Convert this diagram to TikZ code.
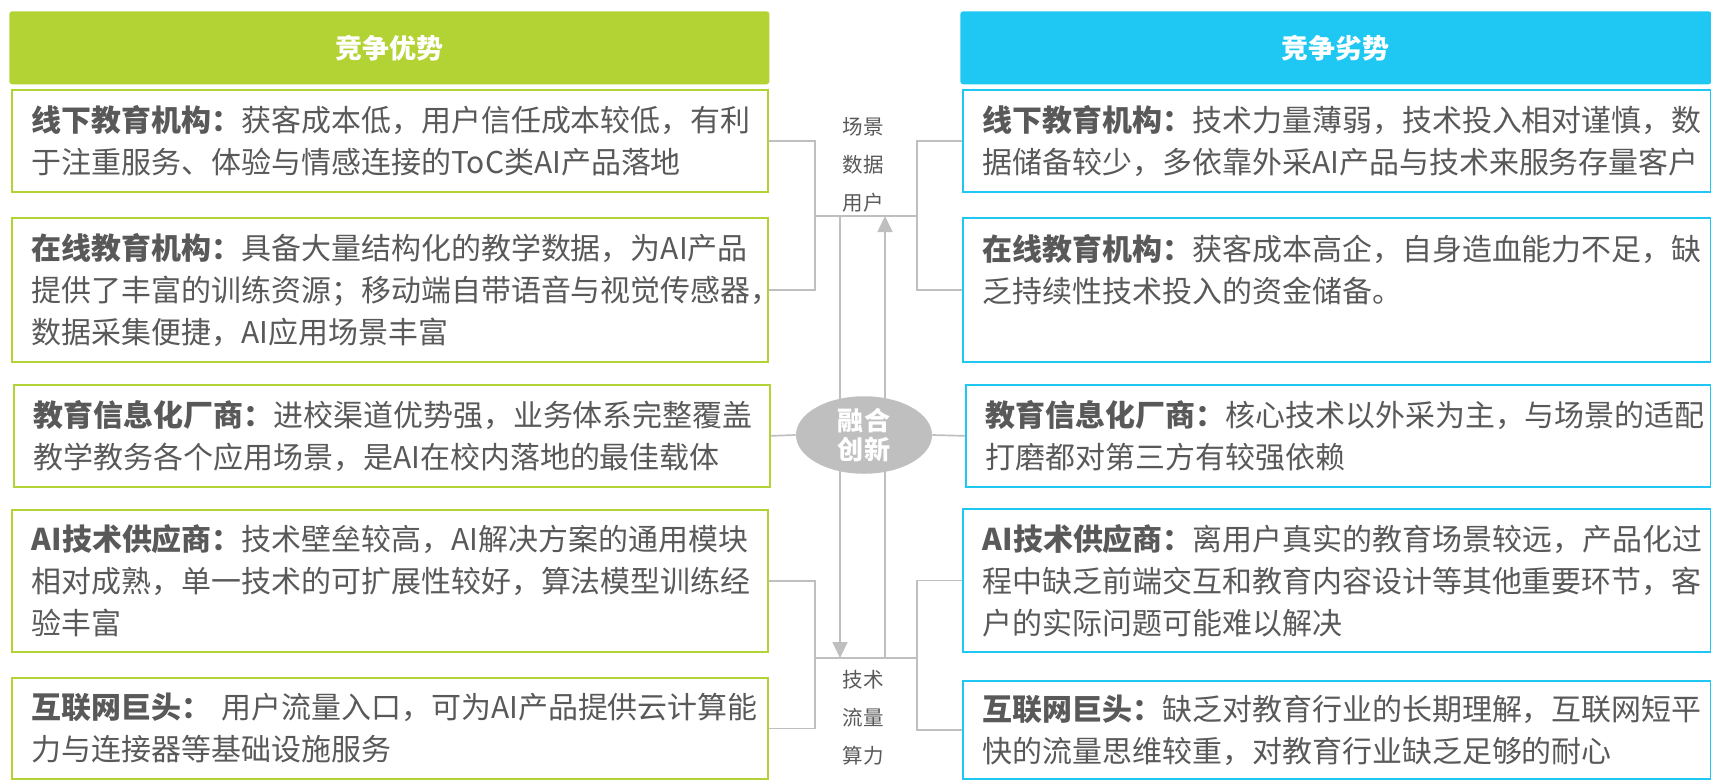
\documentclass[tikz,border=0pt]{standalone}
\usepackage{fontspec}
\setmainfont{Noto Sans CJK SC}
\usetikzlibrary{arrows.meta,shapes.geometric}
\definecolor{advgreen}{HTML}{B3D234}
\definecolor{weakblue}{HTML}{1FC8F2}
\definecolor{linkgray}{HTML}{BFBFBF}
\definecolor{textgray}{HTML}{595959}
\tikzset{
  headbar/.style={anchor=north west, minimum height=1.825cm, inner sep=0pt, rounded corners=0.075cm,
    text=white, font=\fontsize{19.2pt}{23pt}\selectfont\bfseries},
  infobox/.style={anchor=north west, draw, line width=1.2pt, fill=white, inner xsep=0.5cm, inner ysep=0pt,
    align=left, text=textgray, font=\fontsize{21.3pt}{29.9pt}\selectfont},
  plusbox/.style={infobox, draw=advgreen, minimum width=18.9cm, text width=17.9cm},
  minusbox/.style={infobox, draw=weakblue, minimum width=18.7cm, text width=17.7cm},
  link/.style={draw=linkgray, line width=1.2pt},
  keyword/.style={align=center, inner sep=0pt, text=textgray, font=\fontsize{14.6pt}{27pt}\selectfont},
}
\begin{document}
\begin{tikzpicture}[x=0.025cm, y=-0.025cm, >={Triangle[length=0.4cm,width=0.375cm]}]
        \useasboundingbox (0,0) rectangle (1711,779);

        \node [headbar, fill=advgreen, minimum width=19cm] at (9,11) (plushead) {竞争优势};
        \node [headbar, fill=weakblue, minimum width=18.775cm] at (960,11) (minushead) {竞争劣势};

        % advantages
        \node [plusbox, minimum height=2.55cm] at (11,89) (plus1) {{\bfseries 线下教育机构：}获客成本低，用户信任成本较低，有利\\于注重服务、体验与情感连接的ToC类AI产品落地};
        \node [plusbox, minimum height=3.6cm] at (11,217) (plus2) {{\bfseries 在线教育机构：}具备大量结构化的教学数据，为AI产品\\提供了丰富的训练资源；移动端自带语音与视觉传感器，\\数据采集便捷，AI应用场景丰富};
        \node [plusbox, minimum height=2.55cm] at (13,384) (plus3) {{\bfseries 教育信息化厂商：}进校渠道优势强，业务体系完整覆盖\\教学教务各个应用场景，是AI在校内落地的最佳载体};
        \node [plusbox, minimum height=3.55cm] at (11,509) (plus4) {{\bfseries AI技术供应商：}技术壁垒较高，AI解决方案的通用模块\\相对成熟，单一技术的可扩展性较好，算法模型训练经\\验丰富};
        \node [plusbox, minimum height=2.525cm] at (11,677) (plus5) {{\bfseries 互联网巨头：} 用户流量入口，可为AI产品提供云计算能\\力与连接器等基础设施服务};

        % disadvantages
        \node [minusbox, minimum height=2.55cm] at (962,89) (minus1) {{\bfseries 线下教育机构：}技术力量薄弱，技术投入相对谨慎，数\\据储备较少，多依靠外采AI产品与技术来服务存量客户};
        \node [minusbox, minimum height=3.6cm] at (962,217) (minus2) {{\bfseries 在线教育机构：}获客成本高企，自身造血能力不足，缺\\乏持续性技术投入的资金储备。\\\mbox{}};
        \node [minusbox, minimum height=2.55cm, minimum width=18.625cm, text width=17.625cm] at (965,384) (minus3) {{\bfseries 教育信息化厂商：}核心技术以外采为主，与场景的适配\\打磨都对第三方有较强依赖};
        \node [minusbox, minimum height=3.575cm] at (962,508) (minus4) {{\bfseries AI技术供应商：}离用户真实的教育场景较远，产品化过\\程中缺乏前端交互和教育内容设计等其他重要环节，客\\户的实际问题可能难以解决};
        \node [minusbox, minimum height=2.45cm] at (962,680) (minus5) {{\bfseries 互联网巨头：}缺乏对教育行业的长期理解，互联网短平\\快的流量思维较重，对教育行业缺乏足够的耐心};

        \coordinate (topL) at (815,216);
        \coordinate (topR) at (917,216);
        \coordinate (lowL) at (815,658);
        \coordinate (lowR) at (917,658);
        \coordinate (downA) at (840,216);
        \coordinate (downB) at (840,658);
        \coordinate (upA) at (885,658);
        \coordinate (upB) at (885,216);

        \draw [link] (plus1.east) -| (topL) |- (plus2.east);
        \draw [link] (minus1.west) -| (topR) |- (minus2.west);
        \draw [link] (topL) -- (topR);
        \draw [link] (plus4.east) -| (lowL) |- (plus5.east);
        \draw [link] (minus4.west) -| (lowR) |- (minus5.west);
        \draw [link] (lowL) -- (lowR);
        \draw [link,->,linkgray] (downA) -- (downB);
        \draw [link,->,linkgray] (upA) -- (upB);

        \node [ellipse, fill=linkgray, minimum width=3.4cm, minimum height=1.875cm, inner sep=0pt, text=white,
          align=center, font=\fontsize{18.5pt}{21.3pt}\selectfont\bfseries] at (864,435) (fuse) {融合\\创新};
        \draw [link] (plus3.east) -- (fuse.west);
        \draw [link] (fuse.east) -- (minus3.west);

        \node [keyword] at (863,165) (topkeys) {场景\\数据\\用户};
        \node [keyword] at (863,718) (lowkeys) {技术\\流量\\算力};

\end{tikzpicture}
\end{document}
